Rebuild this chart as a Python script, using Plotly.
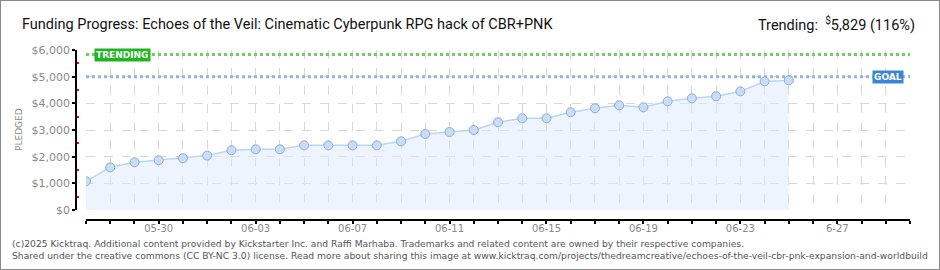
import plotly.graph_objects as go
import pandas as pd

dates = ["2025-05-27", "2025-05-28", "2025-05-29", "2025-05-30", "2025-05-31",
         "2025-06-01", "2025-06-02", "2025-06-03", "2025-06-04", "2025-06-05",
         "2025-06-06", "2025-06-07", "2025-06-08", "2025-06-09", "2025-06-10",
         "2025-06-11", "2025-06-12", "2025-06-13", "2025-06-14", "2025-06-15",
         "2025-06-16", "2025-06-17", "2025-06-18", "2025-06-19", "2025-06-20",
         "2025-06-21", "2025-06-22", "2025-06-23", "2025-06-24", "2025-06-25"]
pledged = [1075, 1600, 1790, 1865, 1940, 2040, 2240, 2275, 2275, 2425,
           2425, 2425, 2425, 2575, 2850, 2925, 3000, 3290, 3440, 3440,
           3665, 3815, 3925, 3850, 4075, 4190, 4265, 4450, 4825, 4860]
goal = 5000
trending = 5829
x_start, x_end = "2025-05-27", "2025-06-30"

tick_days = pd.date_range(x_start, x_end, freq="D")
tick_vals = [d.strftime("%Y-%m-%d") for d in tick_days]
label_map = {"2025-05-30": "05-30", "2025-06-03": "06-03", "2025-06-07": "06-07",
             "2025-06-11": "06-11", "2025-06-15": "06-15", "2025-06-19": "06-19",
             "2025-06-23": "06-23", "2025-06-27": "6-27"}
tick_text = [label_map.get(v, "") for v in tick_vals]
y_ticks = [0, 1000, 2000, 3000, 4000, 5000, 6000]
y_text = ["$0", "$1,000", "$2,000", "$3,000", "$4,000", "$5,000", "$6,000"]

W, H = 940, 270
xd = [86 / W, 910 / W]
yd = [(H - 210) / H, (H - 50) / H]

fig = go.Figure()
fig.add_trace(go.Scatter(x=[x_start, x_end], y=[trending, trending], mode="lines",
                         line=dict(color="#6fcf5f", width=3, dash="dot"),
                         hoverinfo="skip", showlegend=False))
fig.add_trace(go.Scatter(x=[x_start, x_end], y=[goal, goal], mode="lines",
                         line=dict(color="#94b4da", width=3, dash="dot"),
                         hoverinfo="skip", showlegend=False))
fig.add_trace(go.Scatter(x=dates, y=pledged, mode="lines+markers",
                         line=dict(color="#bcd6f2", width=1.5),
                         fill="tozeroy", fillcolor="rgba(220,234,252,0.5)",
                         marker=dict(size=9, color="#c6def8",
                                     line=dict(color="#93abcb", width=1)),
                         showlegend=False))

fig.update_layout(
    width=W, height=H, margin=dict(l=0, r=0, t=0, b=0),
    paper_bgcolor="white", plot_bgcolor="white",
    font=dict(family="DejaVu Sans", color="#888"),
    xaxis=dict(domain=xd, range=[x_start, x_end], type="date",
               anchor="free", position=(H - 220) / H,
               tickmode="array", tickvals=tick_vals, ticktext=tick_text,
               showgrid=True, gridcolor="#d8d8d8", griddash="dash", gridwidth=1,
               showline=True, linecolor="black", linewidth=1.5,
               ticks="outside", ticklen=3, tickcolor="black", tickwidth=1.5,
               ticklabelstandoff=-4,
               tickfont=dict(size=10, color="#888", family="DejaVu Sans"),
               zeroline=False, automargin=False),
    yaxis=dict(domain=yd, range=[0, 6000], anchor="free", position=76 / W,
               tickmode="array", tickvals=y_ticks, ticktext=y_text,
               showgrid=True, gridcolor="#d8d8d8", griddash="dash", gridwidth=1,
               showline=True, linecolor="black", linewidth=1.5,
               ticks="outside", ticklen=3, tickcolor="black", tickwidth=1.5,
               tickfont=dict(size=11, color="#8a8a8a", family="DejaVu Sans"),
               minor=dict(tickvals=[500, 1500, 2500, 3500, 4500, 5500],
                          ticks="inside", ticklen=2, tickcolor="red", tickwidth=1.5,
                          showgrid=False),
               zeroline=False, automargin=False),
    shapes=[dict(type="rect", xref="paper", yref="paper", x0=0, x1=1, y0=0, y1=1,
                 line=dict(color="#8a8a8a", width=2))],
)

fig.add_annotation(xref="paper", yref="paper", x=20 / W, y=1 - 24 / H,
                   xanchor="left", yanchor="middle", showarrow=False,
                   text="Funding Progress: Echoes of the Veil: Cinematic Cyberpunk RPG hack of CBR+PNK",
                   font=dict(family="Roboto", size=14.5, color="#111"))
fig.add_annotation(xref="paper", yref="paper", x=917 / W, y=1 - 24 / H,
                   xanchor="right", yanchor="middle", showarrow=False,
                   text="Trending:  <sup>$</sup>5,829 (116%)",
                   font=dict(family="Roboto", size=14.5, color="#111"))
fig.add_annotation(xref="paper", yref="paper", x=19 / W, y=1 - 130 / H,
                   xanchor="center", yanchor="middle", showarrow=False, textangle=-90,
                   text="PLEDGED", font=dict(size=9, color="#888"))
fig.add_annotation(xref="paper", yref="y", x=94 / W, y=trending,
                   xanchor="left", yanchor="middle", showarrow=False,
                   text="<b>TRENDING</b>", bgcolor="#1fb51f", borderpad=1,
                   font=dict(size=9, color="white"))
fig.add_annotation(xref="paper", yref="y", x=904 / W, y=goal,
                   xanchor="right", yanchor="middle", showarrow=False,
                   text="<b>GOAL</b>", bgcolor="#3b86d4", borderpad=1,
                   font=dict(size=9, color="white"))
fig.add_annotation(xref="paper", yref="paper", x=10 / W, y=1 - 249 / H,
                   xanchor="left", yanchor="middle", showarrow=False, align="left",
                   text="(c)2025 Kicktraq. Additional content provided by Kickstarter Inc. and Raffi Marhaba. Trademarks and related content are owned by their respective companies.<br>"
                        "Shared under the creative commons (CC BY-NC 3.0) license. Read more about sharing this image at www.kicktraq.com/projects/thedreamcreative/echoes-of-the-veil-cbr-pnk-expansion-and-worldbuild",
                   font=dict(size=9.2, color="#555"))

fig.write_html("out.html")
